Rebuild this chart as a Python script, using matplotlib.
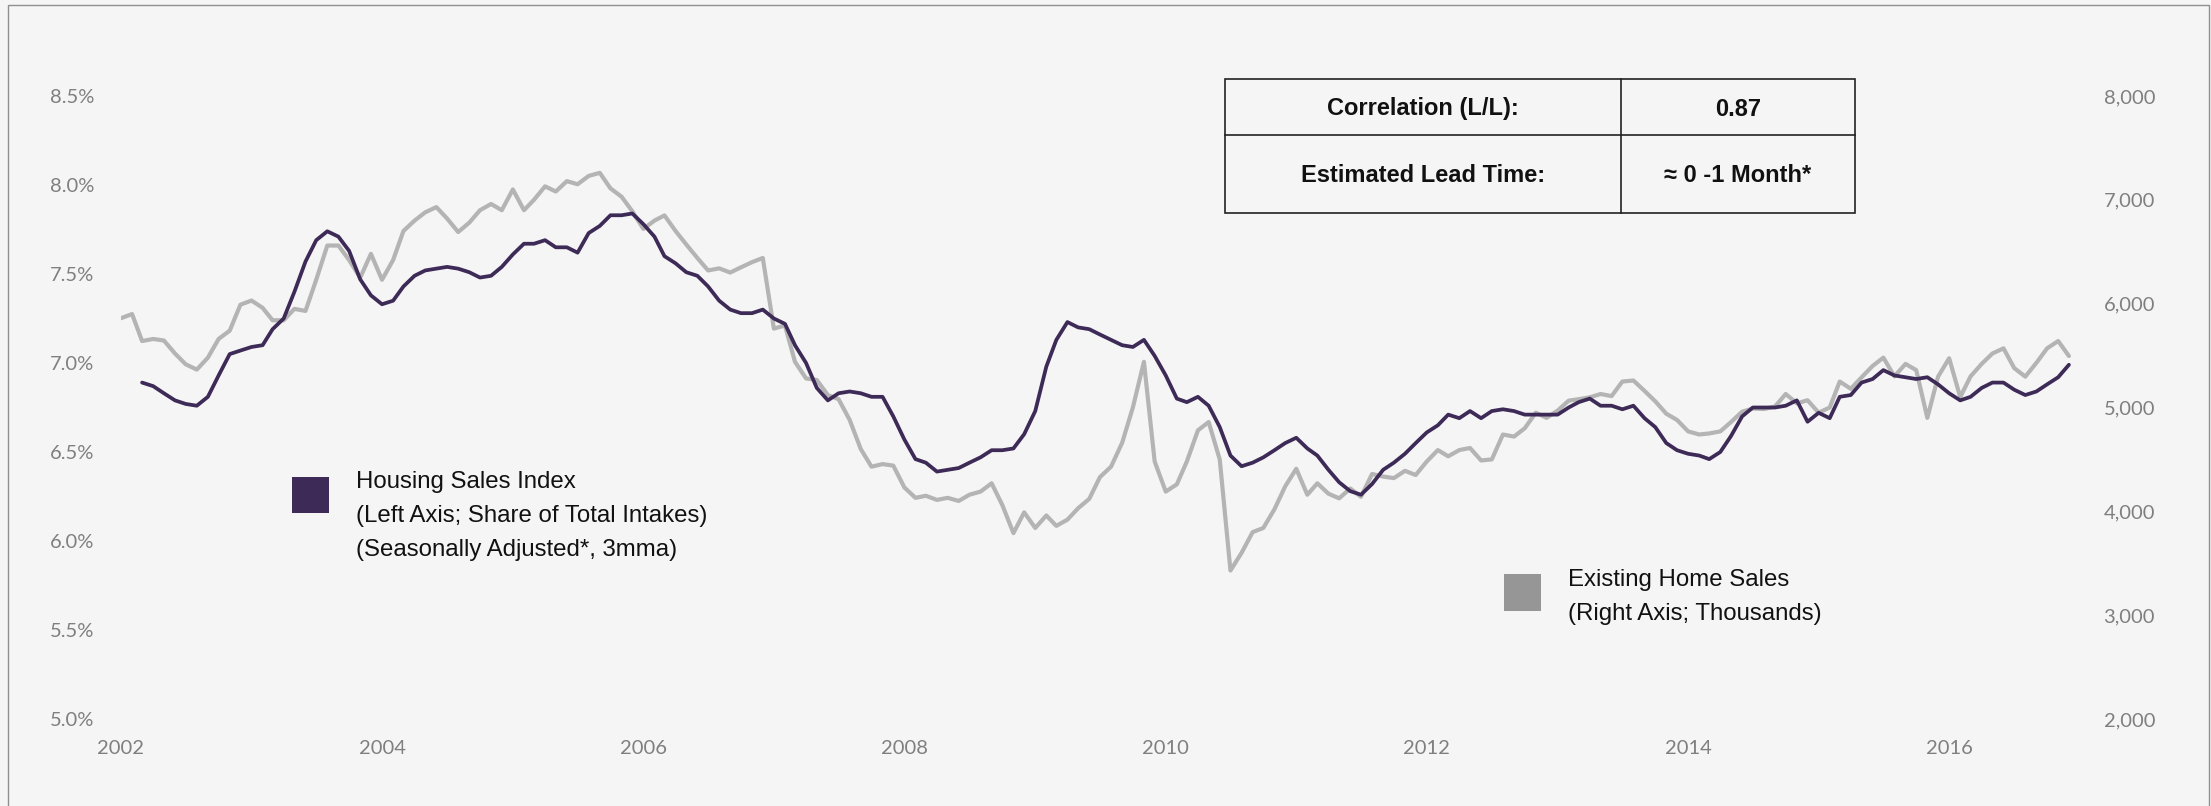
import matplotlib
matplotlib.use("Agg")
import matplotlib.pyplot as plt
from matplotlib.patches import Rectangle
from matplotlib.lines import Line2D
from matplotlib.ticker import FuncFormatter
import numpy as np
import pandas as pd

# monthly data, Jan 2002 - Dec 2016
months = pd.date_range("2002-01-01", periods=180, freq="MS")

# Housing Sales Index, % share of total intakes (3mma, so first two months empty)
housing_index = [
    np.nan, np.nan, 6.89, 6.87, 6.83, 6.79, 6.77, 6.76, 6.81, 6.93, 7.05, 7.07,
    7.09, 7.10, 7.19, 7.25, 7.40, 7.57, 7.69, 7.74, 7.71, 7.63, 7.47, 7.38,
    7.33, 7.35, 7.43, 7.49, 7.52, 7.53, 7.54, 7.53, 7.51, 7.48, 7.49, 7.54,
    7.61, 7.67, 7.67, 7.69, 7.65, 7.65, 7.62, 7.73, 7.77, 7.83, 7.83, 7.84,
    7.78, 7.71, 7.60, 7.56, 7.51, 7.49, 7.43, 7.35, 7.30, 7.28, 7.28, 7.30,
    7.25, 7.22, 7.10, 7.00, 6.86, 6.79, 6.83, 6.84, 6.83, 6.81, 6.81, 6.70,
    6.57, 6.46, 6.44, 6.39, 6.40, 6.41, 6.44, 6.47, 6.51, 6.51, 6.52, 6.60,
    6.73, 6.98, 7.13, 7.23, 7.20, 7.19, 7.16, 7.13, 7.10, 7.09, 7.13, 7.04,
    6.93, 6.80, 6.78, 6.81, 6.76, 6.64, 6.48, 6.42, 6.44, 6.47, 6.51, 6.55,
    6.58, 6.52, 6.48, 6.40, 6.33, 6.28, 6.26, 6.32, 6.40, 6.44, 6.49, 6.55,
    6.61, 6.65, 6.71, 6.69, 6.73, 6.69, 6.73, 6.74, 6.73, 6.71, 6.71, 6.71,
    6.71, 6.75, 6.78, 6.80, 6.76, 6.76, 6.74, 6.76, 6.69, 6.64, 6.55, 6.51,
    6.49, 6.48, 6.46, 6.50, 6.59, 6.70, 6.75, 6.75, 6.75, 6.76, 6.79, 6.67,
    6.72, 6.69, 6.81, 6.82, 6.89, 6.91, 6.96, 6.93, 6.92, 6.91, 6.92, 6.88,
    6.83, 6.79, 6.81, 6.86, 6.89, 6.89, 6.85, 6.82, 6.84, 6.88, 6.92, 6.99,
]

# Existing Home Sales, thousands
home_sales = [
    5860, 5900, 5640, 5660, 5645, 5520, 5416, 5365, 5480, 5660, 5740, 5990,
    6030, 5960, 5840, 5840, 5950, 5930, 6230, 6560, 6560, 6420, 6250, 6480,
    6230, 6420, 6700, 6800, 6880, 6930, 6820, 6690, 6780, 6900, 6960, 6900,
    7100, 6900, 7000, 7130, 7080, 7180, 7150, 7230, 7260, 7110, 7030, 6890,
    6720, 6800, 6850, 6700, 6570, 6440, 6320, 6340, 6300, 6350, 6400, 6440,
    5760, 5790, 5440, 5280, 5265, 5120, 5080, 4880, 4600, 4430, 4455, 4440,
    4230, 4130, 4150, 4110, 4130, 4100, 4160, 4190, 4270, 4060, 3790, 3990,
    3840, 3960, 3860, 3920, 4030, 4120, 4330, 4430, 4660, 5000, 5440, 4480,
    4190, 4260, 4480, 4780, 4860, 4500, 3430, 3600, 3800, 3840, 4020, 4240,
    4410, 4160, 4270, 4170, 4125, 4220, 4140, 4360, 4335, 4320, 4390, 4350,
    4480, 4590, 4530, 4590, 4610, 4490, 4500, 4740, 4720, 4800, 4950, 4900,
    4970, 5066, 5080, 5098, 5130, 5110, 5250, 5260, 5160, 5060, 4940, 4880,
    4770, 4740, 4750, 4770, 4860, 4960, 4990, 4985, 5010, 5130, 5040, 5070,
    4950, 5000, 5250, 5180, 5290, 5400, 5480, 5300, 5420, 5360, 4900, 5297,
    5474, 5100, 5300, 5420, 5520, 5570, 5380, 5297, 5430, 5570, 5640, 5496,
]

tick_years = ["2002", "2004", "2006", "2008", "2010", "2012", "2014", "2016"]

legend_left = ["Housing Sales Index",
               "(Left Axis; Share of Total Intakes)",
               "(Seasonally Adjusted*, 3mma)"]
legend_right = ["Existing Home Sales", "(Right Axis; Thousands)"]
table_rows = [("Correlation (L/L):", "0.87"),
              ("Estimated Lead Time:", "\u2248 0 -1 Month*")]

W, H = 2211, 806
bg = "#f5f5f5"
purple = "#3d2a57"
grey = "#b4b4b4"
tick_col = "#7f7f7f"

fig = plt.figure(figsize=(W / 100, H / 100), dpi=100, facecolor=bg)


def fx(px):
    return px / W


def fy(py):
    return 1 - py / H


ax = fig.add_axes([fx(121), fy(719), fx(2080) - fx(121), fy(96) - fy(719)])
ax2 = ax.twinx()
ax.set_zorder(ax2.get_zorder() + 1)
ax.patch.set_visible(False)
ax2.set_facecolor(bg)

ax2.plot(months, home_sales, color=grey, lw=3.0,
         solid_capstyle="round", solid_joinstyle="round")
ax.plot(months, housing_index, color=purple, lw=2.7,
        solid_capstyle="round", solid_joinstyle="round")

ax.set_xlim(pd.Timestamp("2002-01-01"), pd.Timestamp("2017-01-01"))
ax.set_ylim(5.0, 8.5)
ax2.set_ylim(2000, 8000)
ax.set_yticks(np.arange(5.0, 8.51, 0.5))
ax2.set_yticks(np.arange(2000, 8001, 1000))
ax.set_xticks(pd.to_datetime([y + "-01-01" for y in tick_years]))
ax.set_xticklabels(tick_years)
ax.yaxis.set_major_formatter(FuncFormatter(lambda v, p: f"{v:.1f}%"))
ax2.yaxis.set_major_formatter(FuncFormatter(lambda v, p: f"{v:,.0f}"))

for a in (ax, ax2):
    for s in a.spines.values():
        s.set_visible(False)
ax.tick_params(axis="y", length=0, pad=19, labelsize=14.5, labelcolor=tick_col)
ax2.tick_params(axis="y", length=0, pad=17, labelsize=14.5, labelcolor=tick_col)
ax.tick_params(axis="x", length=0, pad=15, labelsize=14.5, labelcolor=tick_col)
for lab in ax.get_xticklabels() + ax.get_yticklabels() + ax2.get_yticklabels():
    lab.set_fontfamily("Lato")

# outer frame
fig.add_artist(Rectangle((fx(8), -0.05), fx(2209) - fx(8), fy(5) + 0.05,
                         transform=fig.transFigure, fill=False,
                         edgecolor="#8f8f8f", lw=1))

txt = dict(family=["Liberation Sans", "DejaVu Sans"], color="#111111")

# legends
fig.add_artist(Rectangle((fx(292), fy(513)), fx(329) - fx(292), fy(477) - fy(513),
                         transform=fig.transFigure, color=purple, lw=0))
for i, s in enumerate(legend_left):
    fig.text(fx(356), fy(482 + 34 * i), s, fontsize=17.3, va="center", **txt)

fig.add_artist(Rectangle((fx(1504), fy(611)), fx(1541) - fx(1504), fy(574) - fy(611),
                         transform=fig.transFigure, color="#969696", lw=0))
for i, s in enumerate(legend_right):
    fig.text(fx(1568), fy(580 + 34 * i), s, fontsize=17.3, va="center", **txt)

# correlation table
tx0, tx1, tx2 = 1225, 1621, 1855
ty0, ty1, ty2 = 79, 135, 213
fig.add_artist(Rectangle((fx(tx0), fy(ty2)), fx(tx2) - fx(tx0), fy(ty0) - fy(ty2),
                         transform=fig.transFigure, fill=False, edgecolor="#222222", lw=1.2))
fig.add_artist(Line2D([fx(tx0), fx(tx2)], [fy(ty1), fy(ty1)],
                      transform=fig.transFigure, color="#222222", lw=1.2))
fig.add_artist(Line2D([fx(tx1), fx(tx1)], [fy(ty0), fy(ty2)],
                      transform=fig.transFigure, color="#222222", lw=1.2))
row_y = [(ty0 + ty1) / 2 + 2, (ty1 + ty2) / 2 + 1]
for (left, right), yy in zip(table_rows, row_y):
    fig.text(fx((tx0 + tx1) / 2), fy(yy), left, fontsize=17, fontweight="bold",
             ha="center", va="center", **txt)
    fig.text(fx((tx1 + tx2) / 2), fy(yy), right, fontsize=17, fontweight="bold",
             ha="center", va="center", **txt)

fig.savefig("out.png", dpi=100, facecolor=bg)
